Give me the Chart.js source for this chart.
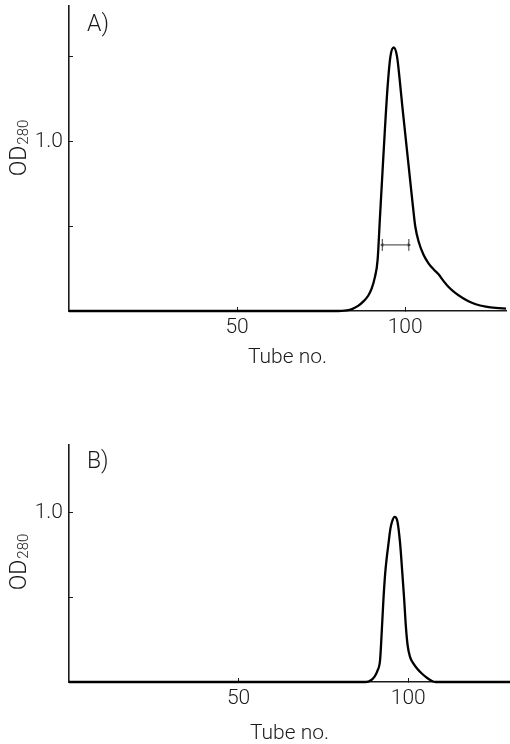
<!DOCTYPE html>
<html><head><meta charset="utf-8">
<script src="https://cdn.jsdelivr.net/npm/chart.js@4"></script>
<style>
html,body{margin:0;padding:0;background:#fff;}
.panel{position:absolute;left:0;width:510px;height:372px;}
</style></head><body>
<div class="panel" style="top:0"><canvas id="cA"></canvas></div>
<div class="panel" style="top:372px"><canvas id="cB"></canvas></div>
<script>
// ---- data ----
const tubesA = [0, 80, 82, 84, 86, 87.5, 89, 90, 91, 91.8, 92.5, 93.2, 94, 94.8, 95.6, 96.6, 97.6, 98.4, 99.2, 100, 100.8, 101.6, 102.3, 103, 104, 105.5, 107, 108.5, 110, 111.5, 113, 115, 117, 119, 121, 124, 127, 130];
const odA    = [0, 0, 0.002, 0.01, 0.03, 0.055, 0.09, 0.13, 0.2, 0.3, 0.55, 0.8, 1.08, 1.33, 1.5, 1.555, 1.5, 1.36, 1.2, 1.05, 0.9, 0.75, 0.62, 0.5, 0.41, 0.33, 0.28, 0.245, 0.215, 0.175, 0.14, 0.105, 0.078, 0.056, 0.04, 0.026, 0.018, 0.014];
const tubesB = [0, 87.5, 89, 90, 91, 91.7, 92.2, 92.7, 93.2, 93.7, 94.2, 94.7, 95.2, 96, 96.8, 97.6, 98.2, 98.8, 99.3, 99.8, 100.5, 101.5, 102.6, 104, 105.5, 107, 108, 130];
const odB    = [0, 0, 0.01, 0.03, 0.07, 0.13, 0.3, 0.49, 0.64, 0.74, 0.82, 0.9, 0.945, 0.975, 0.95, 0.82, 0.66, 0.49, 0.33, 0.22, 0.15, 0.11, 0.08, 0.05, 0.025, 0.006, 0, 0];
const halfWidthTubes = [93.2, 101.1];
const halfWidthLevel = 0.39;
const xTickValues = [50, 100];
const yTickValuesA = [0.5, 1.0, 1.5];
const yTickValuesB = [0.5, 1.0];
const yLabelled = [1.0];

const FONT = 'Roboto';
const INK = '#1a1a1a';

function pts(xs, ys){ return xs.map((x,i)=>({x:x, y:ys[i]})); }

const textPlugin = {
  id: 'panelText',
  afterDraw(chart, args, opts){
    const ctx = chart.ctx;
    const area = chart.chartArea;
    ctx.save();
    ctx.fillStyle = INK;
    // panel letter
    ctx.font = '300 23px ' + FONT;
    ctx.textBaseline = 'middle';
    ctx.textAlign = 'left';
    ctx.fillText(opts.letter, opts.letterX, opts.letterY);
    // x title
    ctx.font = '300 21px ' + FONT;
    ctx.textAlign = 'center';
    ctx.fillText('Tube no.', (area.left + area.right)/2, opts.xTitleY);
    // y title with subscript
    ctx.translate(opts.yTitleX, opts.yTitleY);
    ctx.rotate(-Math.PI/2);
    ctx.textAlign = 'left';
    ctx.textBaseline = 'alphabetic';
    ctx.font = '300 23px ' + FONT;
    const w1 = ctx.measureText('OD').width;
    ctx.font = '300 15px ' + FONT;
    const w2 = ctx.measureText('280').width;
    const start = -(w1 + w2 + 1)/2;
    ctx.font = '300 23px ' + FONT;
    ctx.fillText('OD', start, 8);
    ctx.font = '300 15px ' + FONT;
    ctx.fillText('280', start + w1 + 1, 10);
    ctx.restore();
  }
};

function makePanel(id, datasets, yMax, yTicks, topPad, bottomY, textOpts){
  return new Chart(document.getElementById(id), {
    type: 'scatter',
    data: { datasets: datasets },
    plugins: [textPlugin],
    options: {
      responsive: true, maintainAspectRatio: false, animation: false,
      layout: { padding: { top: topPad, right: 0, left: 0, bottom: 0 } },
      plugins: { legend: {display:false}, tooltip: {enabled:false}, panelText: textOpts },
      scales: {
        x: {
          type: 'linear', min: 0, max: 130,
          afterBuildTicks: s => { s.ticks = xTickValues.map(v=>({value:v})); },
          afterFit: s => { s.height = 372 - bottomY; s.paddingLeft = 0; s.paddingRight = 0; },
          border: { display: true, color: INK, width: 1.6 },
          grid: { drawOnChartArea: false, drawTicks: true, tickLength: -4, color: INK, lineWidth: 1 },
          ticks: { padding: 8, color: INK, font: { family: FONT, size: 21, weight: '300' }, maxRotation: 0,
                   callback: v => String(v) }
        },
        y: {
          type: 'linear', min: 0, max: yMax,
          afterBuildTicks: s => { s.ticks = yTicks.map(v=>({value:v})); },
          afterFit: s => { s.width = 69; s.paddingTop = 0; s.paddingBottom = 0; },
          border: { display: true, color: INK, width: 1.6 },
          grid: { drawOnChartArea: false, drawTicks: true, tickLength: -4, color: INK, lineWidth: 1 },
          ticks: { padding: 10, color: INK, font: { family: FONT, size: 21, weight: '300' },
                   callback: v => (yLabelled.includes(v) ? v.toFixed(1) : '') }
        }
      }
    }
  });
}

const curveStyle = { showLine: true, pointRadius: 0, borderColor: '#000', borderWidth: 2.3,
                     tension: 0.4, cubicInterpolationMode: 'monotone', clip: false, fill: false };
const thin = { showLine: true, pointRadius: 0, borderColor: '#333', borderWidth: 1, clip: false };

makePanel('cA', [
  Object.assign({ data: pts(tubesA, odA) }, curveStyle),
  Object.assign({}, thin, { data: pts(halfWidthTubes, [halfWidthLevel, halfWidthLevel]),
    pointRadius: 2.2, pointStyle: 'triangle', rotation: [-90, 90],
    pointBackgroundColor: '#333', pointBorderWidth: 0 }),
  Object.assign({ data: pts([halfWidthTubes[0], halfWidthTubes[0]], [halfWidthLevel-0.035, halfWidthLevel+0.035]) }, thin),
  Object.assign({ data: pts([halfWidthTubes[1], halfWidthTubes[1]], [halfWidthLevel-0.035, halfWidthLevel+0.035]) }, thin)
], 1.8, yTickValuesA, 6, 311, { letter: 'A)', letterX: 87, letterY: 25, xTitleY: 358, yTitleX: 18, yTitleY: 148 });

makePanel('cB', [
  Object.assign({ data: pts(tubesB, odB) }, curveStyle)
], 1.4, yTickValuesB, 73, 310, { letter: 'B)', letterX: 87, letterY: 90, xTitleY: 362, yTitleX: 18, yTitleY: 190 });
</script>
</body></html>
